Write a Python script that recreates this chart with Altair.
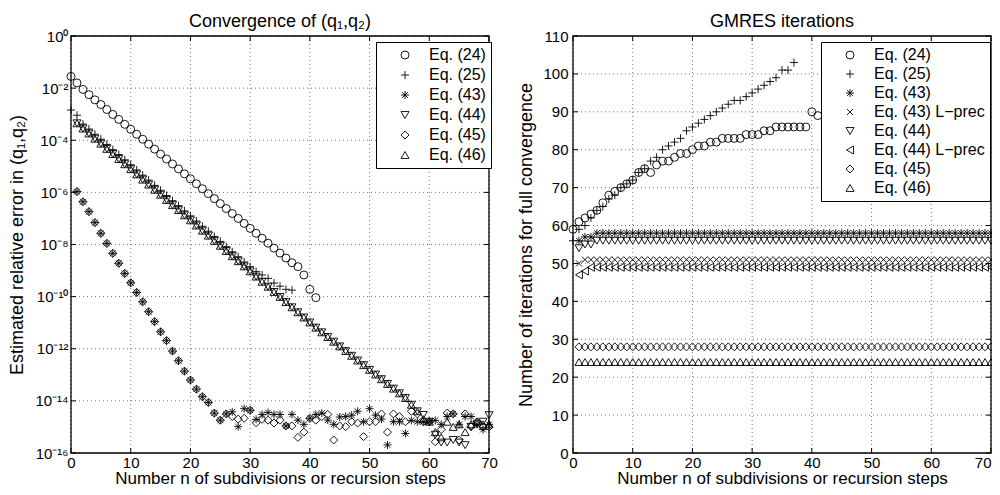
import altair as alt
import pandas as pd
import math

FONT = "Liberation Sans"
W, H = 418, 417          # each panel's plot area
GAP = 84                 # gap between the two plot areas
X0R = W + GAP            # left edge of the right panel inside the shared canvas

# ---------------- data: left panel (log10 of estimated relative error) ----------------
n24 = list(range(0, 42))
log24 = [-1.55, -1.80, -2.05, -2.25, -2.45, -2.63, -2.82, -3.01, -3.20, -3.39,
         -3.58, -3.77, -3.96, -4.15, -4.34, -4.53, -4.72, -4.91, -5.10, -5.29,
         -5.48, -5.67, -5.86, -6.05, -6.24, -6.43, -6.62, -6.81, -7.00, -7.19,
         -7.38, -7.57, -7.76, -7.95, -8.14, -8.33, -8.52, -8.70, -8.85, -9.17,
         -9.72, -10.04]

n25 = list(range(0, 38))
log25 = [-2.84, -3.04, -3.38, -3.57, -3.77, -3.96, -4.16, -4.36, -4.55, -4.75,
         -4.94, -5.14, -5.34, -5.53, -5.73, -5.92, -6.12, -6.32, -6.51, -6.71,
         -6.90, -7.10, -7.30, -7.49, -7.69, -7.88, -8.08, -8.28, -8.47, -8.67,
         -8.85, -9.04, -9.17, -9.30, -9.48, -9.60, -9.72, -9.75]

n_low = list(range(1, 71))
lower_line = [-5.97, -6.36, -6.74, -7.16, -7.57, -7.96, -8.34, -8.72, -9.11, -9.47,
              -9.84, -10.20, -10.58, -10.96, -11.35, -11.69, -12.09, -12.46, -12.86, -13.20,
              -13.55, -13.84, -14.06]
floor43 = [-14.47, -14.74, -14.50, -14.42, -14.99, -14.30, -14.36, -14.71, -14.52, -14.45,
           -14.52, -14.52, -14.96, -14.52, -14.74, -14.90, -14.67, -14.52, -14.47, -14.74,
           -14.90, -14.62, -14.60, -14.55, -14.40, -14.80, -14.30, -14.55, -14.70, -15.69,
           -14.80, -14.80, -15.25, -14.75, -14.80, -14.80, -14.80, -14.75, -14.90, -14.60,
           -14.50, -14.90, -14.60, -14.60, -14.90, -15.10, -14.90]
floor45 = [-14.47, -14.74, -14.50, -14.60, -14.70, -14.67, -14.36, -14.84, -14.71, -14.74,
           -14.85, -14.74, -14.96, -14.96, -15.40, -15.20, -14.67, -14.74, -14.60, -14.52,
           -15.50, -14.96, -14.99, -14.80, -14.85, -15.37, -14.80, -14.80, -14.50, -15.20,
           -14.50, -14.60, -14.80, -14.40, -14.50, -14.80, -14.80, -15.57, -15.10, -14.47,
           -14.50, -15.50, -14.50, -14.99, -14.80, -15.00, -15.00]
log43 = lower_line + floor43
log45 = lower_line + floor45

middle_line = [-3.35, -3.55, -3.74, -3.94, -4.13, -4.33, -4.53, -4.72, -4.92, -5.11,
               -5.31, -5.51, -5.70, -5.90, -6.09, -6.29, -6.49, -6.68, -6.88, -7.07,
               -7.27, -7.47, -7.66, -7.86, -8.05, -8.25, -8.45, -8.64, -8.84, -9.03,
               -9.23, -9.43, -9.62, -9.82, -10.01, -10.21, -10.41, -10.60, -10.80, -10.99,
               -11.19, -11.37, -11.55, -11.73, -11.91, -12.09, -12.27, -12.45, -12.63, -12.81,
               -12.99, -13.17, -13.35, -13.53, -13.71, -13.89, -14.15, -14.40]
floor44 = [-14.54, -14.80, -15.30, -15.60, -15.60, -15.50, -15.60, -15.70, -15.00, -14.90,
           -14.80, -14.55]
floor46 = [-14.70, -14.80, -15.20, -15.40, -14.80, -15.00, -14.90, -15.20, -14.90, -14.80,
           -14.90, -14.90]
log44 = middle_line + floor44
log46 = middle_line + floor46

# ---------------- data: right panel (GMRES iterations) ----------------
it24 = [59, 61, 62, 63, 64, 66, 68, 69, 70, 71,
        72, 74, 75, 74, 76, 77, 77, 78, 79, 79,
        80, 81, 81, 82, 82, 83, 83, 83, 83, 84,
        84, 84, 85, 85, 86, 86, 86, 86, 86, 86,
        90, 89]
it25 = [56, 59, 60, 62, 64, 65, 67, 68, 70, 71,
        72, 74, 75, 77, 78, 80, 81, 82, 83, 85,
        86, 87, 88, 89, 90, 91, 92, 93, 93, 94,
        95, 96, 97, 98, 99, 101, 101, 103]
it43 = [56, 57, 57] + [58] * 67
it43L = [50] + [51] * 69
it44 = [54, 55, 55] + [56] * 67
it44L = [47, 48] + [49] * 68
it45 = [28] * 70
it46 = [24] * 70

x_ticks = [0, 10, 20, 30, 40, 50, 60, 70]
ylog_ticks = [1e0, 1e-2, 1e-4, 1e-6, 1e-8, 1e-10, 1e-12, 1e-14, 1e-16]
ylin_ticks = [0, 10, 20, 30, 40, 50, 60, 70, 80, 90, 100, 110]

left_labels = ["Eq. (24)", "Eq. (25)", "Eq. (43)", "Eq. (44)", "Eq. (45)", "Eq. (46)"]
right_labels = ["Eq. (24)", "Eq. (25)", "Eq. (43)", "Eq. (43) L\u2212prec", "Eq. (44)",
                "Eq. (44) L\u2212prec", "Eq. (45)", "Eq. (46)"]

left_title = "Convergence of (q\u2081,q\u2082)"
right_title = "GMRES iterations"
x_title = "Number n of subdivisions or recursion steps"
yl_title = "Estimated relative error in (q\u2081,q\u2082)"
yr_title = "Number of iterations for full convergence"

PLUS = "M-1,0L1,0M0,-1L0,1"
ASTER = "M-1,0L1,0M0,-1L0,1M-0.72,-0.72L0.72,0.72M-0.72,0.72L0.72,-0.72"
XMARK = "M-0.75,-0.75L0.75,0.75M-0.75,0.75L0.75,-0.75"
left_shapes = ["circle", PLUS, ASTER, "triangle-down", "diamond", "triangle-up"]
right_shapes = ["circle", PLUS, ASTER, XMARK, "triangle-down", "triangle-left", "diamond", "triangle-up"]

# ---------------- tables ----------------
rows = []
for lab, ns, ls in [(left_labels[0], n24, log24), (left_labels[1], n25, log25),
                    (left_labels[2], n_low, log43), (left_labels[3], n_low, log44),
                    (left_labels[4], n_low, log45), (left_labels[5], n_low, log46)]:
    for n, v in zip(ns, ls):
        rows.append({"n": n, "v": 10.0 ** v, "series": lab})
df_left = pd.DataFrame(rows)

rows = []
for lab, ns, vs in [(right_labels[0], n24, it24), (right_labels[1], n25, it25),
                    (right_labels[2], n_low, it43), (right_labels[3], n_low, it43L),
                    (right_labels[4], n_low, it44), (right_labels[5], n_low, it44L),
                    (right_labels[6], n_low, it45), (right_labels[7], n_low, it46)]:
    for n, v in zip(ns, vs):
        rows.append({"n": n, "v": v, "series": lab})
df_right = pd.DataFrame(rows)

xt = pd.DataFrame({"n": x_ticks})
ylt = pd.DataFrame({"v": ylog_ticks})
yrt = pd.DataFrame({"v": ylin_ticks})
one = pd.DataFrame({"k": [0]})

SUP = {"0": "\u2070", "1": "\u00b9", "2": "\u00b2", "3": "\u00b3", "4": "\u2074", "5": "\u2075",
       "6": "\u2076", "7": "\u2077", "8": "\u2078", "9": "\u2079", "-": "\u207b"}
expr = "''"
for t in ylog_ticks:
    e = round(math.log10(t))
    lab = "10" + "".join(SUP[c] for c in str(e))
    expr = f"round(log(datum.value)/LN10) == {e} ? '{lab}' : (" + expr + ")"

ylog_scale = alt.Scale(type="log", domain=[1e-16, 1], nice=False)
ylin_scale = alt.Scale(domain=[0, 110], nice=False, zero=False)

AXIS_COMMON = dict(labelFont=FONT, labelFontSize=15, labelColor="black", titleFont=FONT,
                   titleFontWeight="normal", titleColor="black", ticks=False, tickSize=0, domain=False,
                   grid=False, labelFlush=False, labelOverlap=False)


def x_axis(last_right):
    extra = {}
    if last_right:
        extra["labelAlign"] = {"condition": {"test": "datum.value == 70", "value": "right"}, "value": "center"}
    return alt.Axis(values=x_ticks, title=x_title, orient="bottom", labelPadding=2, titleFontSize=17,
                    titleY=30.3, titleBaseline="alphabetic", **extra, **AXIS_COMMON)


ylog_axis = alt.Axis(values=ylog_ticks, labelExpr=expr, title=yl_title, orient="left", offset=0,
                     labelPadding=3, titleX=-49, titleAngle=270, titleBaseline="alphabetic",
                     titleFontSize=18, **AXIS_COMMON)
ylin_axis = alt.Axis(values=ylin_ticks, title=yr_title, orient="left", offset=-X0R,
                     labelPadding=5, titleX=-42, titleAngle=270, titleBaseline="alphabetic",
                     titleFontSize=18, **AXIS_COMMON)


def legend(x, row_pad):
    return alt.Legend(title=None, orient="none", legendX=x, legendY=6,
                      fillColor="white", strokeColor="black", padding=5,
                      symbolOffset=16, labelOffset=16, labelFontSize=16, labelFont=FONT,
                      labelColor="black", symbolSize=64, symbolStrokeWidth=0.9,
                      symbolStrokeColor="black", rowPadding=row_pad, labelLimit=300)


def panel(df, ydf, ysc, yax, labels, shapes, x0, lx, row_pad, title, last_right):
    xsc = alt.Scale(domain=[0, 70], range=[x0, x0 + W], nice=False, zero=False)
    X = alt.X("n:Q", scale=xsc, axis=x_axis(last_right))
    Y = alt.Y("v:Q", scale=ysc, axis=yax)
    grid_v = alt.Chart(xt).mark_rule(color="#555", strokeWidth=0.8, strokeDash=[1, 3]).encode(
        x=X, y=alt.value(0), y2=alt.value(H))
    grid_h = alt.Chart(ydf).mark_rule(color="#555", strokeWidth=0.8, strokeDash=[1, 3]).encode(
        y=Y, x=alt.value(x0), x2=alt.value(x0 + W))
    pts = alt.Chart(df).mark_point(filled=False, size=64, strokeWidth=0.9, color="black", opacity=1).encode(
        x=X, y=Y,
        shape=alt.Shape("series:N", scale=alt.Scale(domain=labels, range=shapes), legend=legend(lx, row_pad)),
    )
    tb = alt.Chart(xt).mark_rule(color="black", strokeWidth=1).encode(x=X, y=alt.value(H), y2=alt.value(H - 5))
    tt = alt.Chart(xt).mark_rule(color="black", strokeWidth=1).encode(x=X, y=alt.value(0), y2=alt.value(5))
    tl = alt.Chart(ydf).mark_rule(color="black", strokeWidth=1).encode(y=Y, x=alt.value(x0), x2=alt.value(x0 + 5))
    tr = alt.Chart(ydf).mark_rule(color="black", strokeWidth=1).encode(
        y=Y, x=alt.value(x0 + W - 5), x2=alt.value(x0 + W))
    box = alt.Chart(one).mark_rect(fillOpacity=0, stroke="black", strokeWidth=1.3).encode(
        x=alt.value(x0), x2=alt.value(x0 + W), y=alt.value(0), y2=alt.value(H))
    ttl = alt.Chart(one).mark_text(font=FONT, fontSize=18, color="black", align="center",
                                   baseline="alphabetic").encode(
        x=alt.value(x0 + W / 2), y=alt.value(-9), text=alt.value(title))
    return alt.layer(grid_v, grid_h, pts, tb, tt, tl, tr, box, ttl)


left = panel(df_left, ylt, ylog_scale, ylog_axis, left_labels, left_shapes, 0, 305, 4, left_title, False)
right = panel(df_right, yrt, ylin_scale, ylin_axis, right_labels, right_shapes, X0R, X0R + 248, 3,
              right_title, True)

chart = alt.layer(left, right).resolve_scale(
    x="independent", y="independent", shape="independent"
).resolve_axis(x="independent", y="independent").resolve_legend(shape="independent").properties(
    width=W + GAP + W, height=H,
    autosize=alt.AutoSizeParams(type="none"),
    padding={"left": 63, "top": 28, "right": 1, "bottom": 34},
    background="white",
).configure_view(strokeWidth=0)

chart.save("out.html", embed_options={"renderer": "svg", "actions": False})
